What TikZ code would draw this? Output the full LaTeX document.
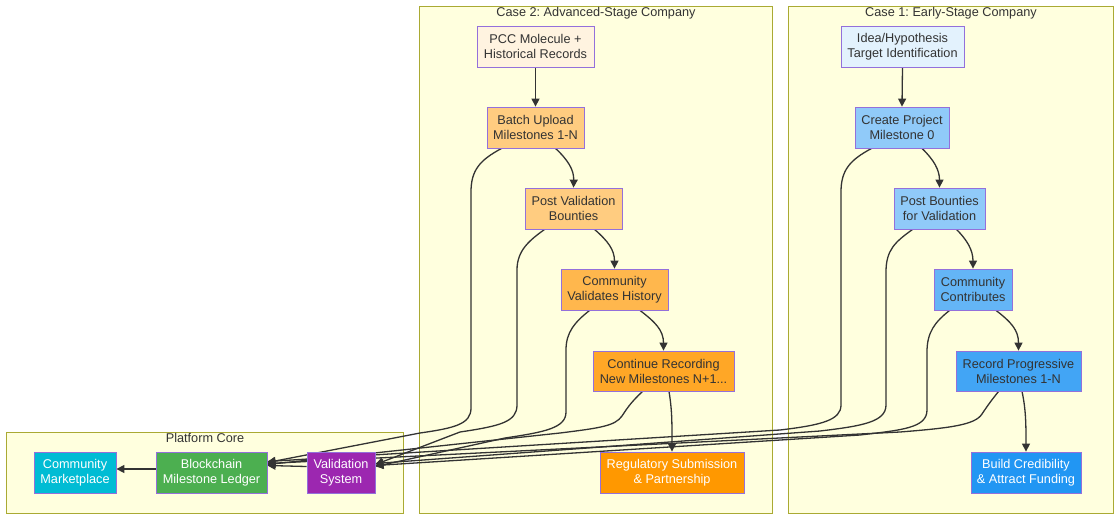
\documentclass[tikz,border=0pt]{standalone}
\usepackage{fontspec}
\setmainfont{Liberation Sans}
\usetikzlibrary{arrows.meta}
\definecolor{clFill}{HTML}{FFFFDE}
\definecolor{clStroke}{HTML}{AAAA33}
\definecolor{nStroke}{HTML}{9370DB}
\definecolor{txt}{HTML}{333333}
\definecolor{edgeCol}{HTML}{333333}
\definecolor{cA}{HTML}{FFF3E0}
\definecolor{cB}{HTML}{FFCC80}
\definecolor{cC}{HTML}{FFB74D}
\definecolor{cD}{HTML}{FFA726}
\definecolor{cE}{HTML}{FF9800}
\definecolor{bA}{HTML}{E3F2FD}
\definecolor{bB}{HTML}{90CAF9}
\definecolor{bC}{HTML}{64B5F6}
\definecolor{bD}{HTML}{42A5F5}
\definecolor{bE}{HTML}{2196F3}
\definecolor{pCM}{HTML}{00BCD4}
\definecolor{pBC}{HTML}{4CAF50}
\definecolor{pVS}{HTML}{9C27B0}
\pgfdeclarelayer{bg}
\pgfdeclarelayer{edges}
\pgfsetlayers{bg,edges,main}
\frenchspacing
\begin{document}
\begin{tikzpicture}[x=1pt,y=-1pt,
  box/.style={draw=nStroke, line width=0.8pt, align=center, inner sep=0pt,
    font=\fontsize{12.7}{15}\selectfont, text=txt, minimum height=41pt},
  wbox/.style={box, text=white},
  cluster/.style={draw=clStroke, fill=clFill, line width=0.8pt},
  ctitle/.style={font=\fontsize{12.7}{15}\selectfont, text=txt, inner sep=0pt},
  edge/.style={draw=edgeCol, line width=1.3pt, -{Triangle[length=8pt,width=8pt]}}]
\useasboundingbox (0,0) rectangle (1120,520);

% nodes
\node[box, fill=cA, minimum width=117pt] (pcc) at (535.5,46.5) {PCC Molecule +\\Historical Records};
\node[box, fill=cB, minimum width=97pt] (batch) at (535.5,127.5) {Batch Upload\\Milestones 1-N};
\node[box, fill=cB, minimum width=97pt] (pval) at (573.5,208.5) {Post Validation\\Bounties};
\node[box, fill=cC, minimum width=107pt] (cval) at (614.5,289.5) {Community\\Validates History};
\node[box, fill=cD, minimum width=141pt, minimum height=40pt] (cont) at (663.5,371) {Continue Recording\\New Milestones N+1...};
\node[wbox, fill=cE, minimum width=144pt] (reg) at (672,472.5) {Regulatory Submission\\\& Partnership};

\node[box, fill=bA, minimum width=123pt] (idea) at (902.5,46.5) {Idea/Hypothesis\\Target Identification};
\node[box, fill=bB, minimum width=94pt] (create) at (902,127.5) {Create Project\\Milestone 0};
\node[box, fill=bB, minimum width=91pt] (pb) at (939.5,208.5) {Post Bounties\\for Validation};
\node[box, fill=bC, minimum width=78pt] (cc) at (973,289.5) {Community\\Contributes};
\node[box, fill=bD, minimum width=125pt, minimum height=40pt] (rec) at (1018.5,371) {Record Progressive\\Milestones 1-N};
\node[wbox, fill=bE, minimum width=110pt] (build) at (1026,472.5) {Build Credibility\\\& Attract Funding};

\node[wbox, fill=pCM, minimum width=82pt] (cm) at (75,472.5) {Community\\Marketplace};
\node[wbox, fill=pBC, minimum width=111pt] (bc) at (211.5,472.5) {Blockchain\\Milestone Ledger};
\node[wbox, fill=pVS, minimum width=68pt] (vs) at (341,472.5) {Validation\\System};

% clusters
\begin{pgfonlayer}{bg}
\fill[white] (0,0) rectangle (1120,520);
\draw[cluster] (6,432) rectangle (403,513);
\draw[cluster] (419,6) rectangle (772,513);
\draw[cluster] (788,6) rectangle (1113,513);
\end{pgfonlayer}
\node[ctitle] (t0) at (205,438) {Platform Core};
\node[ctitle] (t2) at (596,13.5) {Case 2: Advanced-Stage Company};
\node[ctitle] (t1) at (951,13.5) {Case 1: Early-Stage Company};

% edges
\begin{pgfonlayer}{edges}
% chain case 2
\draw[edge] (pcc.south) -- (batch.north);
\draw[edge] ([xshift=20pt]batch.south) .. controls (568,160) and (574,170) .. (pval.north);
\draw[edge] ([xshift=21pt]pval.south) .. controls (608,241) and (614.5,250) .. (cval.north);
\draw[edge] ([xshift=25.5pt]cval.south) .. controls (655,322) and (663.5,330) .. (cont.north);
\draw[edge] ([xshift=5.5pt]cont.south) .. controls (672,410) and (672,420) .. (reg.north);
% chain case 1
\draw[edge] (idea.south) -- (create.north);
\draw[edge] ([xshift=20pt]create.south) .. controls (934,160) and (939.5,170) .. (pb.north);
\draw[edge] ([xshift=17pt]pb.south) .. controls (967,240) and (973,250) .. (cc.north);
\draw[edge] ([xshift=23pt]cc.south) .. controls (1011,322) and (1018.5,330) .. (rec.north);
\draw[edge] ([xshift=3.5pt]rec.south) .. controls (1026,410) and (1026,425) .. (build.north);
% to platform
\draw[edge] ([xshift=15pt]batch.south west) .. controls (480,160) and (471,170) .. (471,192) -- (471,408) .. controls (471,424) and (455,428) .. (420,433) -- ([yshift=10pt]bc.east);
\draw[edge] ([xshift=20pt]pval.south west) .. controls (530,240) and (517,250) .. (517,270) -- (517,405) .. controls (517,422) and (500,426) .. (460,432) -- ([yshift=8pt]vs.east);
\draw[edge] ([xshift=29pt]cval.south west) .. controls (575,322) and (566,332) .. (566,350) -- (566,412) .. controls (566,428) and (545,432) .. (505,438) -- ([yshift=6pt]vs.east);
\draw[edge] ([xshift=50pt]cont.south west) .. controls (630,403) and (626,410) .. (622,416) .. controls (615,426) and (600,428) .. (560,433) -- ([yshift=8pt]bc.east);
\draw[edge] ([xshift=17pt]create.south west) .. controls (850,160) and (841,170) .. (841,192) -- (841,405) .. controls (841,420) and (822,425) .. (780,430) -- ([yshift=11pt]bc.east);
\draw[edge] ([xshift=19pt]pb.south west) .. controls (895,242) and (886,250) .. (886,272) -- (886,405) .. controls (886,422) and (862,426) .. (820,431) -- ([yshift=9pt]vs.east);
\draw[edge] ([xshift=16pt]cc.south west) .. controls (935,322) and (927,332) .. (927,352) -- (927,410) .. controls (927,428) and (902,430) .. (860,435) -- ([yshift=7pt]vs.east);
\draw[edge] ([xshift=43pt]rec.south west) .. controls (990,402) and (986,408) .. (982,414) .. controls (975,425) and (950,428) .. (900,432) -- ([yshift=9pt]bc.east);
\draw[edge] ([yshift=6pt]vs.west) -- ([yshift=7pt]bc.east);
\draw[edge] ([yshift=3.5pt]bc.west) -- ([yshift=3.5pt]cm.east);
\end{pgfonlayer}
\end{tikzpicture}
\end{document}
